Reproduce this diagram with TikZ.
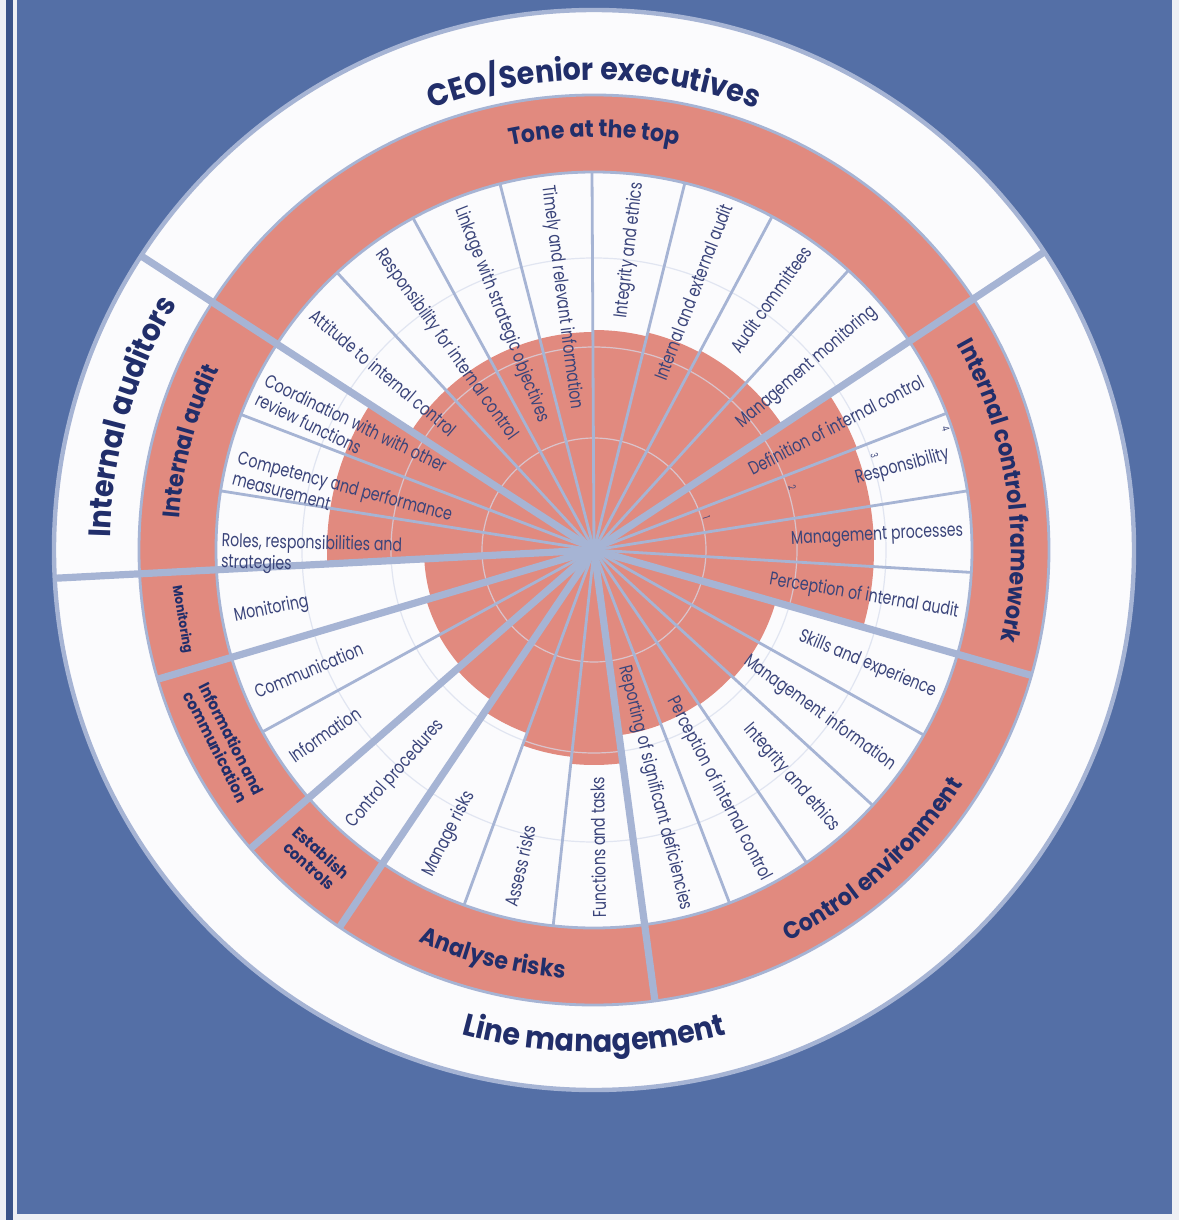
\documentclass[tikz,border=0pt]{standalone}
\usepackage{fontspec}
\usetikzlibrary{decorations.text}
\newfontfamily\segfont[FakeStretch=0.76]{Poppins}
\newfontfamily\catfont[FakeStretch=0.92]{Poppins}
\definecolor{bgblue}{RGB}{84,111,166}
\definecolor{edgeline}{RGB}{59,84,136}
\definecolor{paper}{RGB}{238,240,244}
\definecolor{salmon}{RGB}{225,138,127}
\definecolor{spoke}{RGB}{166,180,212}
\definecolor{gridc}{RGB}{214,220,236}
\definecolor{navy}{RGB}{33,46,106}
\definecolor{labtext}{RGB}{58,68,122}
\definecolor{disc}{RGB}{251,251,253}
% fonts used inside the curved labels
\newcommand\outerfont{\catfont\bfseries\fontsize{15.5}{15.5}\selectfont\color{navy}}
\newcommand\bandfont{\catfont\bfseries\fontsize{12}{12}\selectfont\color{navy}}
\begin{document}
\begin{tikzpicture}[x=0.5pt,y=0.5pt,
  seglab/.style={font=\segfont\fontsize{9.3}{10.6}\selectfont, text=labtext, inner sep=0pt},
  outlab/.style={seglab, anchor=east},
  inlab/.style={seglab, anchor=west},
  smallband/.style={font=\catfont\bfseries\fontsize{8}{9}\selectfont, text=navy, align=center, inner sep=0pt},
  thinspoke/.style={draw=spoke, line width=1.4pt},
  thickspoke/.style={draw=spoke, line width=3.6pt},
  ringline/.style={draw=spoke, line width=1.4pt},
  gridring/.style={draw=gridc, line width=0.6pt, opacity=0.7},
  scalenum/.style={font=\segfont\fontsize{5}{5.5}\selectfont, text=labtext, inner sep=0pt}]

\useasboundingbox (-594,-670) rectangle (585,550);

% page and blue panel
\fill[paper] (-594,-670) rectangle (585,550);
\fill[bgblue] (-577,-664) rectangle (578,550);
\fill[edgeline] (-588,-670) rectangle (-581,550);

% outer white disc
\fill[disc] (0,0) circle[radius=540];
\draw[spoke, line width=2.2pt] (0,0) circle[radius=540];

% salmon band of the seven components
\fill[salmon, even odd rule] (0,0) circle[radius=455] (0,0) circle[radius=378];

% radar area of the scores, one sector per question
\foreach \a/\b/\r in {33.5/47.7/226, 47.7/61.9/226, 61.9/76.1/224, 76.1/90.3/220,
  90.3/104.4/218, 104.4/118.6/218, 118.6/132.8/218, 132.8/147/218,
  147/159/267, 159/171/267, 171/183/267,
  183/196.5/170, 196.5/208.75/175, 208.75/221/177, 221/236/182,
  236/249.9/195, 249.9/263.8/208, 263.8/277.7/215,
  277.7/291/187, 291/304.2/186, 304.2/317.5/187, 317.5/330.7/189, 330.7/344/189,
  344/356.6/280, 356.6/369/280, 369/381.2/280, 381.2/393.5/282}
  \fill[salmon] (0,0) -- (\a:\r) arc[start angle=\a, end angle=\b, radius=\r] -- cycle;

% scale rings
\foreach \r in {112,203,292}
  \draw[gridring] (0,0) circle[radius=\r];

\draw[ringline] (0,0) circle[radius=455];
\draw[ringline] (0,0) circle[radius=378];

% spokes between questions
\foreach \a in {47.7,61.9,76.1,90.3,104.4,118.6,132.8,159,171,208.75,249.9,263.8,
  291,304.2,317.5,330.7,356.6,369,381.2}
  \draw[thinspoke] (0,0) -- (\a:378);
% spokes between components
\foreach \a in {196.5,221,236,277.7,344}
  \draw[thickspoke] (0,0) -- (\a:455);
% spokes between the three groups
\foreach \a in {33.5,147,183}
  \draw[thickspoke] (0,0) -- (\a:540);
\fill[spoke] (0,0) circle[radius=11];

% scale numbers
\node[scalenum, rotate=-73] (s1) at (16:117) {1};
\node[scalenum, rotate=-73] (s2) at (17.6:208) {2};
\node[scalenum, rotate=-73] (s3) at (18.6:296) {3};
\node[scalenum, rotate=-73] (s4) at (19:372) {4};

% question labels: tone at the top
\node[outlab, rotate=40.6] (q1) at (40.6:370) {Management monitoring};
\node[outlab, rotate=54.8] (q2) at (54.8:370) {Audit committees};
\node[outlab, rotate=69] (q3) at (69:370) {Internal and external audit};
\node[outlab, rotate=83.2] (q4) at (83.2:370) {Integrity and ethics};
\node[inlab, rotate=-82.65] (q5) at (97.35:368) {Timely and relevant information};
\node[inlab, rotate=-68.5] (q6) at (111.5:368) {Linkage with strategic objectives};
\node[inlab, rotate=-54.3] (q7) at (125.7:368) {Responsibility for internal control};
\node[inlab, rotate=-40.1] (q8) at (139.9:368) {Attitude to internal control};
% internal audit
\node[inlab, rotate=-26, align=left] (q9) at (154.1:370) {Coordination with with other\\review functions};
\node[inlab, rotate=-15, align=left] (q10) at (167:368) {Competency and performance\\measurement};
\node[inlab, rotate=-1.5, align=left] (q11) at (180.4:373) {Roles, responsibilities and\\strategies};
% monitoring, information and communication, controls
\node[inlab, rotate=11] (q12) at (190.5:366) {Monitoring};
\node[inlab, rotate=22.6] (q13) at (202.8:368) {Communication};
\node[inlab, rotate=34.9] (q14) at (214.5:368) {Information};
\node[inlab, rotate=48.5] (q15) at (228.5:368) {Control procedures};
% analyse risks
\node[inlab, rotate=63] (q16) at (243:366) {Manage risks};
\node[inlab, rotate=76.9] (q17) at (256.9:366) {Assess risks};
\node[inlab, rotate=90.8] (q18) at (270.8:368) {Functions and tasks};
% control environment
\node[outlab, rotate=-75.65] (q19) at (284.35:372) {Reporting of significant deficiencies};
\node[outlab, rotate=-62.4] (q20) at (297.6:372) {Perception of internal control};
\node[outlab, rotate=-49.1] (q21) at (310.9:370) {Integrity and ethics};
\node[outlab, rotate=-35.9] (q22) at (324.1:370) {Management information};
\node[outlab, rotate=-22.65] (q23) at (337.35:370) {Skills and experience};
% internal control framework
\node[outlab, rotate=-9.7] (q24) at (-9.7:370) {Perception of internal audit};
\node[outlab, rotate=2.8] (q25) at (2.8:370) {Management processes};
\node[outlab, rotate=15.1] (q26) at (15.1:368) {Responsibility};
\node[outlab, rotate=27.35] (q27) at (27.35:370) {Definition of internal control};

% component names in the salmon band
\path[decorate, decoration={text along path, text align=center,
  text={|\bandfont|Tone at the top}}]
  (150:413) arc[start angle=150, end angle=30, radius=413];
\path[decorate, decoration={text along path, text align=center,
  text={|\bandfont|Internal control framework}}]
  (50:417) arc[start angle=50, end angle=-33, radius=417];
\path[decorate, decoration={text along path, text align=center,
  text={|\bandfont|Control environment}}]
  (-80:437) arc[start angle=-80, end angle=-16, radius=437];
\path[decorate, decoration={text along path, text align=center,
  text={|\bandfont|Analyse risks}}]
  (226:429) arc[start angle=226, end angle=286, radius=429];
\path[decorate, decoration={text along path, text align=center,
  text={|\bandfont|Internal audit}}]
  (200:416) arc[start angle=200, end angle=130, radius=416];
\node[smallband, rotate=-42] (c1) at (228:416) {Establish\\controls};
\node[smallband, rotate=-63] (c2) at (207.5:417) {Information and\\communication};
\node[smallband, rotate=-80.25, font=\catfont\bfseries\fontsize{6.6}{7}\selectfont] (c3) at (189.6:418) {Monitoring};

% groups in the outer ring
\path[decorate, decoration={text along path, text align=center,
  text={|\outerfont|CEO/Senior executives}}]
  (150:470) arc[start angle=150, end angle=30, radius=470];
\path[decorate, decoration={text along path, text align=center,
  text={|\outerfont|Internal auditors}}]
  (204:484) arc[start angle=204, end angle=124, radius=484];
\path[decorate, decoration={text along path, text align=center,
  text={|\outerfont|Line management}}]
  (230:502) arc[start angle=230, end angle=310, radius=502];
\end{tikzpicture}
\end{document}
